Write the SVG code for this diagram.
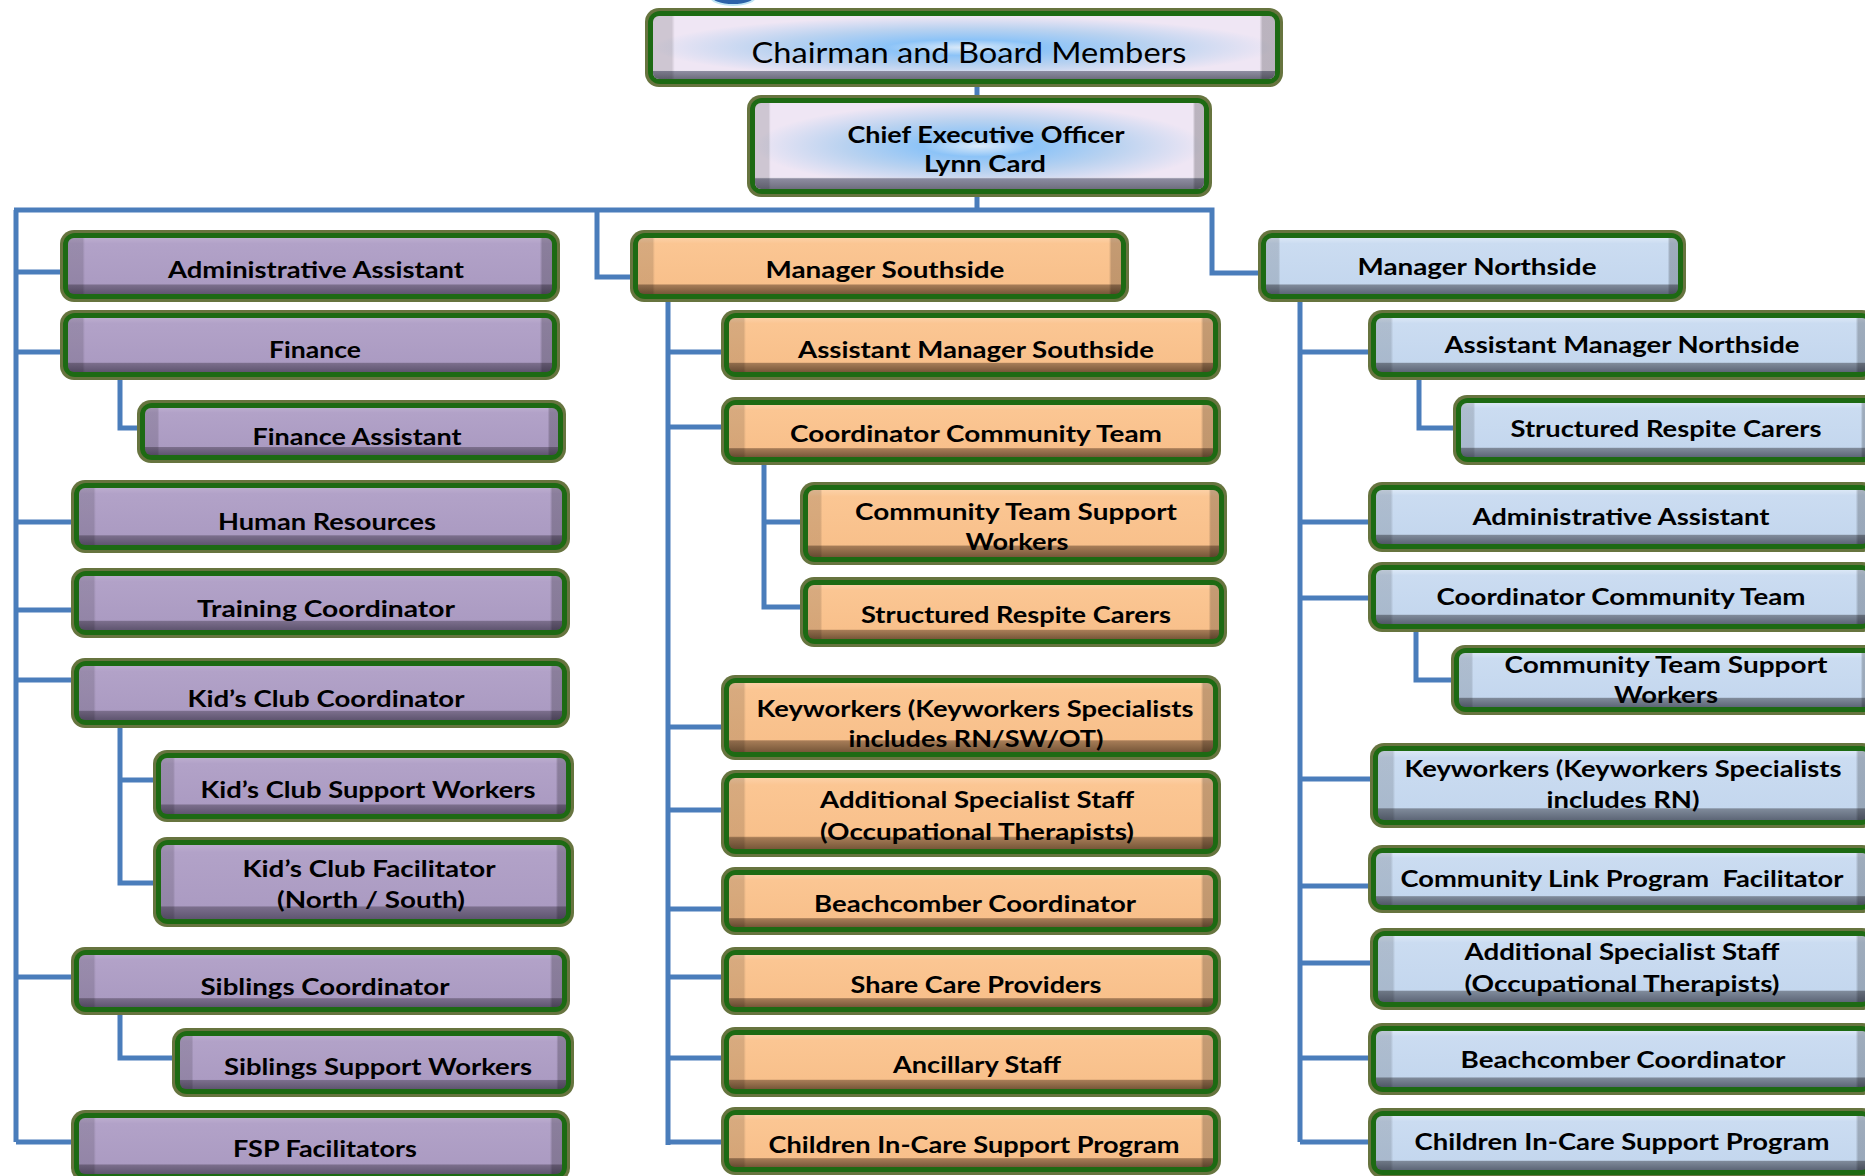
<svg xmlns="http://www.w3.org/2000/svg" width="1865" height="1176" viewBox="0 0 1865 1176">
<style>
.fo{fill:#67743f}
.fi{fill:#1d6a13}
.pu{fill:url(#gPu)}
.or{fill:url(#gOr)}
.lb{fill:url(#gLb)}
.tp{fill:url(#gTp)}
.bb{fill:url(#gBt)}
.sh{fill:url(#gSh)}
.hl{fill:none;stroke:#c9df9a;stroke-opacity:.55;stroke-width:2}
text{font-family:Lato,"Open Sans","Liberation Sans",sans-serif;font-weight:bold;font-size:23px;fill:#000;text-anchor:middle}
text.big{font-weight:normal;font-size:28px}
text.ceo{font-size:22px}
#conn path{fill:none;stroke:#4a7dbb;stroke-width:5;stroke-linejoin:miter}
</style>
<defs>
<linearGradient id="gPu" x1="0" y1="0" x2="0" y2="1">
<stop offset="0" stop-color="#bcadcf"/><stop offset=".1" stop-color="#b2a2c8"/><stop offset=".82" stop-color="#ab9bc2"/><stop offset=".84" stop-color="#7b6e8c"/><stop offset="1" stop-color="#5f5570"/>
</linearGradient>
<linearGradient id="gOr" x1="0" y1="0" x2="0" y2="1">
<stop offset="0" stop-color="#fcd0a6"/><stop offset=".1" stop-color="#fbc693"/><stop offset=".82" stop-color="#f8c08b"/><stop offset=".84" stop-color="#a67c57"/><stop offset="1" stop-color="#775739"/>
</linearGradient>
<linearGradient id="gLb" x1="0" y1="0" x2="0" y2="1">
<stop offset="0" stop-color="#dbe7f6"/><stop offset=".1" stop-color="#cbdcf1"/><stop offset=".82" stop-color="#c4d7ee"/><stop offset=".84" stop-color="#7f8a9a"/><stop offset="1" stop-color="#5d6677"/>
</linearGradient>
<radialGradient id="gTp" cx=".5" cy=".5" r=".5">
<stop offset="0" stop-color="#dbeaf9"/><stop offset=".25" stop-color="#8cc3f7"/><stop offset=".6" stop-color="#b9d2f0"/><stop offset="1" stop-color="#efe6f4"/>
</radialGradient>
<linearGradient id="gBt" x1="0" y1="0" x2="0" y2="1">
<stop offset="0" stop-color="#fff" stop-opacity="0"/><stop offset=".86" stop-color="#fff" stop-opacity="0"/><stop offset=".88" stop-color="#7d7d92" stop-opacity=".85"/><stop offset="1" stop-color="#5f6070" stop-opacity=".9"/>
</linearGradient>
<linearGradient id="gSh" x1="0" y1="0" x2="1" y2="0">
<stop offset="0" stop-color="#000" stop-opacity=".14"/><stop offset=".03" stop-color="#000" stop-opacity=".14"/><stop offset=".035" stop-color="#000" stop-opacity="0"/><stop offset=".975" stop-color="#000" stop-opacity="0"/><stop offset=".98" stop-color="#000" stop-opacity=".22"/><stop offset="1" stop-color="#000" stop-opacity=".22"/>
</linearGradient>
</defs>
<rect width="1865" height="1176" fill="#fff"/>
<ellipse cx="733" cy="-3" rx="22" ry="8" fill="#2c63a9" stroke="#bfe6f5" stroke-width="2"/>

<g id="conn">
<path d="M977 87V95M977 197V210"/>
<path d="M14 210H1212V273H1258"/>
<path d="M597 210V277H630"/>
<path d="M16 210V1142"/>
<path d="M16 272H60M16 352H60M16 522H71M16 610H71M16 680H71M16 977H71M16 1142H71"/>
<path d="M120 380V428H137"/>
<path d="M120 728V883H153M120 780H153"/>
<path d="M120 1015V1058H172"/>
<path d="M668 302V1145"/>
<path d="M668 352H721M668 427H721M668 727H721M668 810H721M668 909H721M668 977H721M668 1058H721M668 1142H721"/>
<path d="M764 465V607H800M764 522H800"/>
<path d="M1300 302V1142"/>
<path d="M1300 352H1368M1300 522H1368M1300 598H1368M1300 779H1370M1300 886H1368M1300 963H1370M1300 1058H1368M1300 1142H1368"/>
<path d="M1419 380V428H1453"/>
<path d="M1416 632V680H1451"/>
</g>

<g id="chairman">
<rect class="fo" x="645" y="8" width="638" height="79" rx="14"/><rect class="fi" x="648" y="11" width="632" height="73" rx="12"/>
<rect class="tp" x="653" y="16" width="622" height="63" rx="6"/><rect class="bb" x="653" y="16" width="622" height="63" rx="6"/><rect class="sh" x="653" y="16" width="622" height="63" rx="6"/>
<text class="big" x="969" y="63" textLength="435" lengthAdjust="spacingAndGlyphs">Chairman and Board Members</text>
</g>
<g id="ceo">
<rect class="fo" x="747" y="95" width="465" height="102" rx="14"/><rect class="fi" x="750" y="98" width="459" height="96" rx="12"/>
<rect class="tp" x="755" y="103" width="449" height="86" rx="6"/><rect class="bb" x="755" y="103" width="449" height="86" rx="6"/><rect class="sh" x="755" y="103" width="449" height="86" rx="6"/>
<text class="ceo" x="986" y="143" textLength="277" lengthAdjust="spacingAndGlyphs">Chief Executive Officer</text>
<text class="ceo" x="985" y="172" textLength="122" lengthAdjust="spacingAndGlyphs">Lynn Card</text>
</g>

<!-- Left column -->
<g id="admin-left">
<rect class="fo" x="60" y="230" width="500" height="72" rx="14"/><rect class="fi" x="63" y="233" width="494" height="66" rx="12"/>
<rect class="pu" x="68" y="238" width="484" height="56" rx="6"/><rect class="sh" x="68" y="238" width="484" height="56" rx="6"/>
<text x="316" y="278" textLength="296" lengthAdjust="spacingAndGlyphs">Administrative Assistant</text>
</g>
<g id="finance">
<rect class="fo" x="60" y="310" width="500" height="70" rx="14"/><rect class="fi" x="63" y="313" width="494" height="64" rx="12"/>
<rect class="pu" x="68" y="318" width="484" height="54" rx="6"/><rect class="sh" x="68" y="318" width="484" height="54" rx="6"/>
<text x="315" y="358" textLength="92" lengthAdjust="spacingAndGlyphs">Finance</text>
</g>
<g id="finance-assistant">
<rect class="fo" x="137" y="400" width="429" height="63" rx="14"/><rect class="fi" x="140" y="403" width="423" height="57" rx="12"/>
<rect class="pu" x="145" y="408" width="413" height="47" rx="6"/><rect class="sh" x="145" y="408" width="413" height="47" rx="6"/>
<text x="357" y="445" textLength="209" lengthAdjust="spacingAndGlyphs">Finance Assistant</text>
</g>
<g id="human-resources">
<rect class="fo" x="71" y="480" width="499" height="73" rx="14"/><rect class="fi" x="74" y="483" width="493" height="67" rx="12"/>
<rect class="pu" x="79" y="488" width="483" height="57" rx="6"/><rect class="sh" x="79" y="488" width="483" height="57" rx="6"/>
<text x="327" y="530" textLength="218" lengthAdjust="spacingAndGlyphs">Human Resources</text>
</g>
<g id="training">
<rect class="fo" x="71" y="568" width="499" height="70" rx="14"/><rect class="fi" x="74" y="571" width="493" height="64" rx="12"/>
<rect class="pu" x="79" y="576" width="483" height="54" rx="6"/><rect class="sh" x="79" y="576" width="483" height="54" rx="6"/>
<text x="326" y="617" textLength="258" lengthAdjust="spacingAndGlyphs">Training Coordinator</text>
</g>
<g id="kids-club-coord">
<rect class="fo" x="71" y="658" width="499" height="70" rx="14"/><rect class="fi" x="74" y="661" width="493" height="64" rx="12"/>
<rect class="pu" x="79" y="666" width="483" height="54" rx="6"/><rect class="sh" x="79" y="666" width="483" height="54" rx="6"/>
<text x="326" y="707" textLength="277" lengthAdjust="spacingAndGlyphs">Kid&#8217;s Club Coordinator</text>
</g>
<g id="kids-club-support">
<rect class="fo" x="153" y="750" width="421" height="72" rx="14"/><rect class="fi" x="156" y="753" width="415" height="66" rx="12"/>
<rect class="pu" x="161" y="758" width="405" height="56" rx="6"/><rect class="sh" x="161" y="758" width="405" height="56" rx="6"/>
<text x="368" y="798" textLength="335" lengthAdjust="spacingAndGlyphs">Kid&#8217;s Club Support Workers</text>
</g>
<g id="kids-club-facilitator">
<rect class="fo" x="153" y="837" width="421" height="90" rx="14"/><rect class="fi" x="156" y="840" width="415" height="84" rx="12"/>
<rect class="pu" x="161" y="845" width="405" height="74" rx="6"/><rect class="sh" x="161" y="845" width="405" height="74" rx="6"/>
<text x="369" y="877" textLength="253" lengthAdjust="spacingAndGlyphs">Kid&#8217;s Club Facilitator</text>
<text x="371" y="908" textLength="188" lengthAdjust="spacingAndGlyphs">(North / South)</text>
</g>
<g id="siblings-coord">
<rect class="fo" x="71" y="947" width="499" height="68" rx="14"/><rect class="fi" x="74" y="950" width="493" height="62" rx="12"/>
<rect class="pu" x="79" y="955" width="483" height="52" rx="6"/><rect class="sh" x="79" y="955" width="483" height="52" rx="6"/>
<text x="325" y="995" textLength="249" lengthAdjust="spacingAndGlyphs">Siblings Coordinator</text>
</g>
<g id="siblings-support">
<rect class="fo" x="172" y="1028" width="402" height="69" rx="14"/><rect class="fi" x="175" y="1031" width="396" height="63" rx="12"/>
<rect class="pu" x="180" y="1036" width="386" height="53" rx="6"/><rect class="sh" x="180" y="1036" width="386" height="53" rx="6"/>
<text x="378" y="1075" textLength="308" lengthAdjust="spacingAndGlyphs">Siblings Support Workers</text>
</g>
<g id="fsp">
<rect class="fo" x="71" y="1110" width="499" height="72" rx="14"/><rect class="fi" x="74" y="1113" width="493" height="66" rx="12"/>
<rect class="pu" x="79" y="1118" width="483" height="56" rx="6"/><rect class="sh" x="79" y="1118" width="483" height="56" rx="6"/>
<text x="325" y="1157" textLength="184" lengthAdjust="spacingAndGlyphs">FSP Facilitators</text>
</g>

<!-- Middle column -->
<g id="manager-southside">
<rect class="fo" x="630" y="230" width="499" height="72" rx="14"/><rect class="fi" x="633" y="233" width="493" height="66" rx="12"/>
<rect class="or" x="638" y="238" width="483" height="56" rx="6"/><rect class="sh" x="638" y="238" width="483" height="56" rx="6"/>
<text x="885" y="278" textLength="239" lengthAdjust="spacingAndGlyphs">Manager Southside</text>
</g>
<g id="asst-mgr-south">
<rect class="fo" x="721" y="310" width="500" height="70" rx="14"/><rect class="fi" x="724" y="313" width="494" height="64" rx="12"/>
<rect class="or" x="729" y="318" width="484" height="54" rx="6"/><rect class="sh" x="729" y="318" width="484" height="54" rx="6"/>
<text x="976" y="358" textLength="356" lengthAdjust="spacingAndGlyphs">Assistant Manager Southside</text>
</g>
<g id="coord-comm-south">
<rect class="fo" x="721" y="397" width="500" height="68" rx="14"/><rect class="fi" x="724" y="400" width="494" height="62" rx="12"/>
<rect class="or" x="729" y="405" width="484" height="52" rx="6"/><rect class="sh" x="729" y="405" width="484" height="52" rx="6"/>
<text x="976" y="442" textLength="372" lengthAdjust="spacingAndGlyphs">Coordinator Community Team</text>
</g>
<g id="ctsw-south">
<rect class="fo" x="800" y="482" width="427" height="83" rx="14"/><rect class="fi" x="803" y="485" width="421" height="77" rx="12"/>
<rect class="or" x="808" y="490" width="411" height="67" rx="6"/><rect class="sh" x="808" y="490" width="411" height="67" rx="6"/>
<text x="1016" y="520" textLength="322" lengthAdjust="spacingAndGlyphs">Community Team Support</text>
<text x="1017" y="550" textLength="103" lengthAdjust="spacingAndGlyphs">Workers</text>
</g>
<g id="src-south">
<rect class="fo" x="800" y="577" width="427" height="70" rx="14"/><rect class="fi" x="803" y="580" width="421" height="64" rx="12"/>
<rect class="or" x="808" y="585" width="411" height="54" rx="6"/><rect class="sh" x="808" y="585" width="411" height="54" rx="6"/>
<text x="1016" y="623" textLength="310" lengthAdjust="spacingAndGlyphs">Structured Respite Carers</text>
</g>
<g id="keyworkers-south">
<rect class="fo" x="721" y="675" width="500" height="85" rx="14"/><rect class="fi" x="724" y="678" width="494" height="79" rx="12"/>
<rect class="or" x="729" y="683" width="484" height="69" rx="6"/><rect class="sh" x="729" y="683" width="484" height="69" rx="6"/>
<text x="975" y="717" textLength="437" lengthAdjust="spacingAndGlyphs">Keyworkers (Keyworkers Specialists</text>
<text x="976" y="747" textLength="255" lengthAdjust="spacingAndGlyphs">includes RN/SW/OT)</text>
</g>
<g id="ass-south">
<rect class="fo" x="721" y="770" width="500" height="87" rx="14"/><rect class="fi" x="724" y="773" width="494" height="81" rx="12"/>
<rect class="or" x="729" y="778" width="484" height="71" rx="6"/><rect class="sh" x="729" y="778" width="484" height="71" rx="6"/>
<text x="977" y="808" textLength="314" lengthAdjust="spacingAndGlyphs">Additional Specialist Staff</text>
<text x="977" y="840" textLength="314" lengthAdjust="spacingAndGlyphs">(Occupational Therapists)</text>
</g>
<g id="beach-south">
<rect class="fo" x="721" y="867" width="500" height="68" rx="14"/><rect class="fi" x="724" y="870" width="494" height="62" rx="12"/>
<rect class="or" x="729" y="875" width="484" height="52" rx="6"/><rect class="sh" x="729" y="875" width="484" height="52" rx="6"/>
<text x="975" y="912" textLength="322" lengthAdjust="spacingAndGlyphs">Beachcomber Coordinator</text>
</g>
<g id="share-care">
<rect class="fo" x="721" y="947" width="500" height="68" rx="14"/><rect class="fi" x="724" y="950" width="494" height="62" rx="12"/>
<rect class="or" x="729" y="955" width="484" height="52" rx="6"/><rect class="sh" x="729" y="955" width="484" height="52" rx="6"/>
<text x="976" y="993" textLength="251" lengthAdjust="spacingAndGlyphs">Share Care Providers</text>
</g>
<g id="ancillary">
<rect class="fo" x="721" y="1027" width="500" height="70" rx="14"/><rect class="fi" x="724" y="1030" width="494" height="64" rx="12"/>
<rect class="or" x="729" y="1035" width="484" height="54" rx="6"/><rect class="sh" x="729" y="1035" width="484" height="54" rx="6"/>
<text x="977" y="1073" textLength="168" lengthAdjust="spacingAndGlyphs">Ancillary Staff</text>
</g>
<g id="cicsp-south">
<rect class="fo" x="721" y="1107" width="500" height="68" rx="14"/><rect class="fi" x="724" y="1110" width="494" height="62" rx="12"/>
<rect class="or" x="729" y="1115" width="484" height="52" rx="6"/><rect class="sh" x="729" y="1115" width="484" height="52" rx="6"/>
<text x="974" y="1153" textLength="411" lengthAdjust="spacingAndGlyphs">Children In-Care Support Program</text>
</g>

<!-- Right column -->
<g id="manager-northside">
<rect class="fo" x="1258" y="230" width="428" height="72" rx="14"/><rect class="fi" x="1261" y="233" width="422" height="66" rx="12"/>
<rect class="lb" x="1266" y="238" width="412" height="56" rx="6"/><rect class="sh" x="1266" y="238" width="412" height="56" rx="6"/>
<text x="1477" y="275" textLength="239" lengthAdjust="spacingAndGlyphs">Manager Northside</text>
</g>
<g id="asst-mgr-north">
<rect class="fo" x="1368" y="310" width="508" height="70" rx="14"/><rect class="fi" x="1371" y="313" width="502" height="64" rx="12"/>
<rect class="lb" x="1376" y="318" width="492" height="54" rx="6"/><rect class="sh" x="1376" y="318" width="492" height="54" rx="6"/>
<text x="1622" y="353" textLength="355" lengthAdjust="spacingAndGlyphs">Assistant Manager Northside</text>
</g>
<g id="src-north">
<rect class="fo" x="1453" y="395" width="426" height="70" rx="14"/><rect class="fi" x="1456" y="398" width="420" height="64" rx="12"/>
<rect class="lb" x="1461" y="403" width="410" height="54" rx="6"/><rect class="sh" x="1461" y="403" width="410" height="54" rx="6"/>
<text x="1666" y="437" textLength="311" lengthAdjust="spacingAndGlyphs">Structured Respite Carers</text>
</g>
<g id="admin-north">
<rect class="fo" x="1368" y="482" width="508" height="70" rx="14"/><rect class="fi" x="1371" y="485" width="502" height="64" rx="12"/>
<rect class="lb" x="1376" y="490" width="492" height="54" rx="6"/><rect class="sh" x="1376" y="490" width="492" height="54" rx="6"/>
<text x="1621" y="525" textLength="297" lengthAdjust="spacingAndGlyphs">Administrative Assistant</text>
</g>
<g id="coord-comm-north">
<rect class="fo" x="1368" y="562" width="508" height="70" rx="14"/><rect class="fi" x="1371" y="565" width="502" height="64" rx="12"/>
<rect class="lb" x="1376" y="570" width="492" height="54" rx="6"/><rect class="sh" x="1376" y="570" width="492" height="54" rx="6"/>
<text x="1621" y="605" textLength="369" lengthAdjust="spacingAndGlyphs">Coordinator Community Team</text>
</g>
<g id="ctsw-north">
<rect class="fo" x="1451" y="645" width="428" height="70" rx="14"/><rect class="fi" x="1454" y="648" width="422" height="64" rx="12"/>
<rect class="lb" x="1459" y="653" width="412" height="54" rx="6"/><rect class="sh" x="1459" y="653" width="412" height="54" rx="6"/>
<text x="1666" y="673" textLength="323" lengthAdjust="spacingAndGlyphs">Community Team Support</text>
<text x="1666" y="703" textLength="104" lengthAdjust="spacingAndGlyphs">Workers</text>
</g>
<g id="keyworkers-north">
<rect class="fo" x="1370" y="743" width="506" height="85" rx="14"/><rect class="fi" x="1373" y="746" width="500" height="79" rx="12"/>
<rect class="lb" x="1378" y="751" width="490" height="69" rx="6"/><rect class="sh" x="1378" y="751" width="490" height="69" rx="6"/>
<text x="1623" y="777" textLength="437" lengthAdjust="spacingAndGlyphs">Keyworkers (Keyworkers Specialists</text>
<text x="1623" y="808" textLength="153" lengthAdjust="spacingAndGlyphs">includes RN)</text>
</g>
<g id="clpf">
<rect class="fo" x="1368" y="845" width="508" height="68" rx="14"/><rect class="fi" x="1371" y="848" width="502" height="62" rx="12"/>
<rect class="lb" x="1376" y="853" width="492" height="52" rx="6"/><rect class="sh" x="1376" y="853" width="492" height="52" rx="6"/>
<text x="1622" y="887" textLength="443" lengthAdjust="spacingAndGlyphs" xml:space="preserve">Community Link Program  Facilitator</text>
</g>
<g id="ass-north">
<rect class="fo" x="1370" y="928" width="506" height="82" rx="14"/><rect class="fi" x="1373" y="931" width="500" height="76" rx="12"/>
<rect class="lb" x="1378" y="936" width="490" height="66" rx="6"/><rect class="sh" x="1378" y="936" width="490" height="66" rx="6"/>
<text x="1622" y="960" textLength="315" lengthAdjust="spacingAndGlyphs">Additional Specialist Staff</text>
<text x="1622" y="992" textLength="315" lengthAdjust="spacingAndGlyphs">(Occupational Therapists)</text>
</g>
<g id="beach-north">
<rect class="fo" x="1368" y="1023" width="508" height="72" rx="14"/><rect class="fi" x="1371" y="1026" width="502" height="66" rx="12"/>
<rect class="lb" x="1376" y="1031" width="492" height="56" rx="6"/><rect class="sh" x="1376" y="1031" width="492" height="56" rx="6"/>
<text x="1623" y="1068" textLength="325" lengthAdjust="spacingAndGlyphs">Beachcomber Coordinator</text>
</g>
<g id="cicsp-north">
<rect class="fo" x="1368" y="1108" width="508" height="70" rx="14"/><rect class="fi" x="1371" y="1111" width="502" height="64" rx="12"/>
<rect class="lb" x="1376" y="1116" width="492" height="54" rx="6"/><rect class="sh" x="1376" y="1116" width="492" height="54" rx="6"/>
<text x="1622" y="1150" textLength="415" lengthAdjust="spacingAndGlyphs">Children In-Care Support Program</text>
</g>
</svg>
